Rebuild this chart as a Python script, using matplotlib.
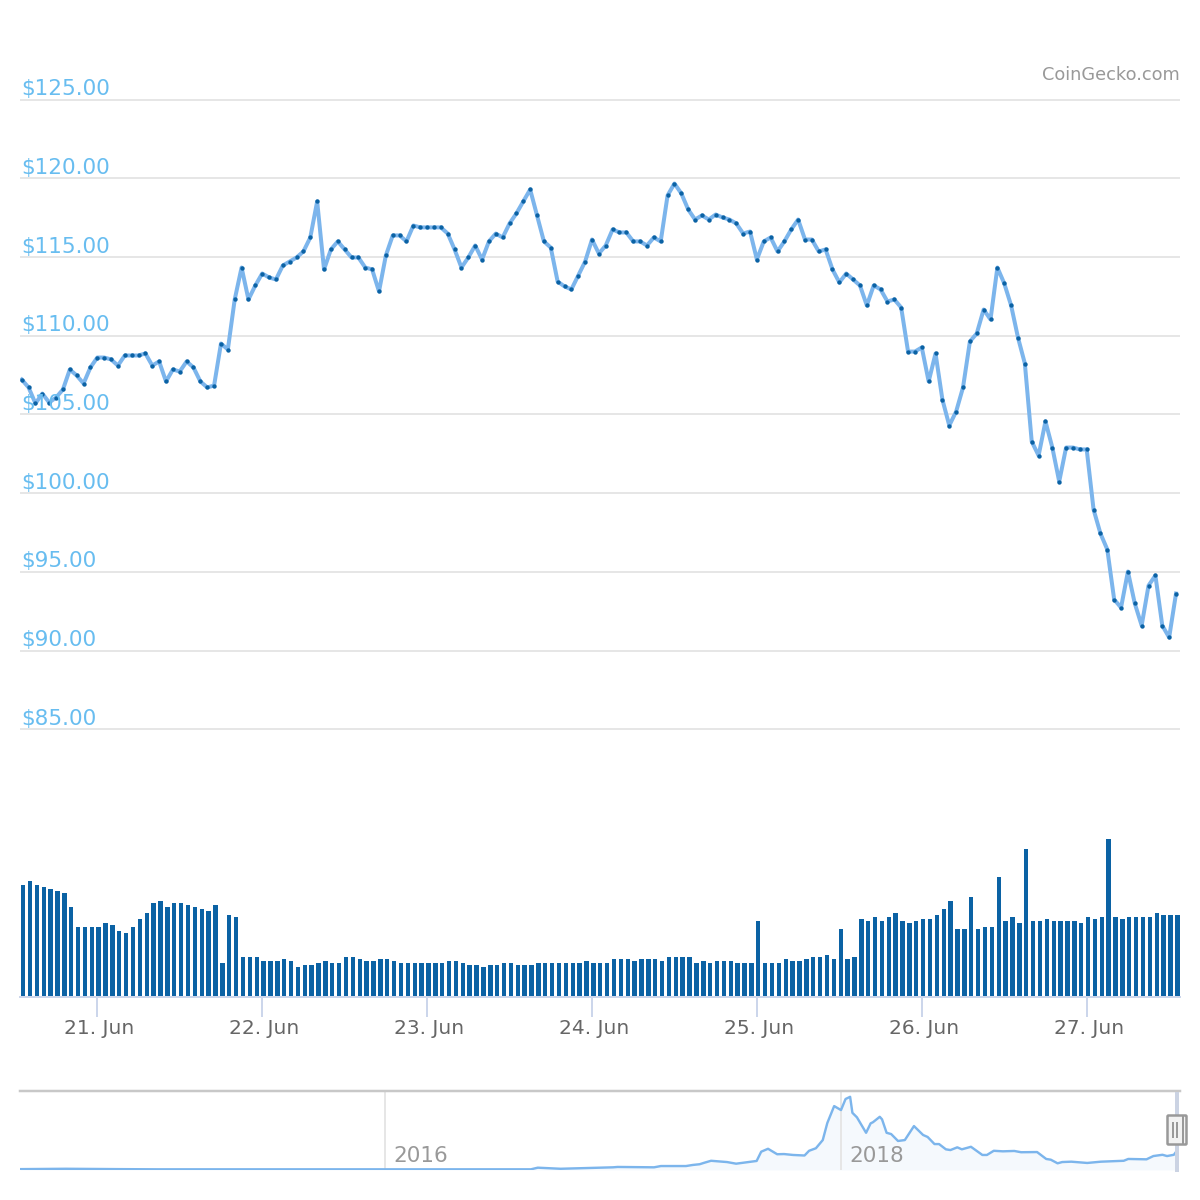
import numpy as np
import matplotlib
matplotlib.use('Agg')
import matplotlib.pyplot as plt
from matplotlib.patches import FancyBboxPatch, Rectangle
from matplotlib.transforms import ScaledTranslation

# hours counted from 21 Jun 00:00, one sample per hour
hours = np.arange(-11, 158)

price = [
    107.22, 106.72, 105.70, 106.33, 105.76, 106.08, 106.59, 107.86, 107.48, 106.97,
    107.99, 108.62, 108.62, 108.50, 108.11, 108.75, 108.75, 108.75, 108.88, 108.11,
    108.37, 107.10, 107.86, 107.73, 108.37, 107.99, 107.10, 106.72, 106.84, 109.51,
    109.13, 112.31, 114.34, 112.31, 113.20, 113.96, 113.71, 113.58, 114.47, 114.72,
    114.98, 115.36, 116.25, 118.54, 114.22, 115.49, 116.00, 115.49, 114.98, 114.98,
    114.34, 114.22, 112.82, 115.11, 116.38, 116.38, 116.00, 117.01, 116.89, 116.89,
    116.89, 116.89, 116.50, 115.49, 114.34, 114.98, 115.74, 114.85, 116.00, 116.50,
    116.25, 117.14, 117.78, 118.54, 119.30, 117.65, 116.00, 115.61, 113.45, 113.14,
    112.95, 113.83, 114.72, 116.12, 115.23, 115.74, 116.76, 116.57, 116.57, 116.00,
    116.00, 115.74, 116.25, 116.00, 118.92, 119.68, 119.05, 118.03, 117.39, 117.65,
    117.39, 117.71, 117.52, 117.39, 117.14, 116.50, 116.63, 114.85, 116.00, 116.25,
    115.36, 116.00, 116.76, 117.39, 116.12, 116.12, 115.36, 115.49, 114.22, 113.39,
    113.96, 113.58, 113.20, 111.93, 113.20, 112.95, 112.18, 112.31, 111.80, 109.00,
    109.00, 109.26, 107.10, 108.88, 105.95, 104.30, 105.19, 106.72, 109.64, 110.15,
    111.67, 111.04, 114.34, 113.33, 111.93, 109.89, 108.24, 103.28, 102.39, 104.56,
    102.90, 100.74, 102.90, 102.90, 102.78, 102.78, 98.96, 97.44, 96.42, 93.24,
    92.73, 95.02, 92.99, 91.59, 94.13, 94.77, 91.59, 90.83, 93.62,
]

volume = [
    112, 116, 112, 110, 108, 106, 104, 90, 70, 70, 70, 70, 74, 72, 66, 64, 70, 78, 84, 94,
    96, 90, 94, 94, 92, 90, 88, 86, 92, 34, 82, 80, 40, 40, 40, 36, 36, 36, 38, 36, 30,
    32, 32, 34, 36, 34, 34, 40, 40, 38, 36, 36, 38, 38, 36, 34, 34, 34, 34, 34, 34, 34,
    36, 36, 34, 32, 32, 30, 32, 32, 34, 34, 32, 32, 32, 34, 34, 34, 34, 34, 34, 34, 36,
    34, 34, 34, 38, 38, 38, 36, 38, 38, 38, 36, 40, 40, 40, 40, 34, 36, 34, 36, 36, 36,
    34, 34,
    34, 76, 34, 34, 34, 38, 36, 36, 38, 40, 40, 42, 38, 68, 38, 40, 78, 76, 80, 76, 80,
    84, 76, 74, 76, 78, 78, 82, 88, 96, 68, 68, 100, 68, 70, 70, 120, 76, 80, 74, 148,
    76, 76, 78, 76, 76, 76, 76, 74, 80, 78, 80, 158, 80, 78, 80, 80, 80, 80, 84, 82, 82, 82,
]

price_ticks = [125, 120, 115, 110, 105, 100, 95, 90, 85]
day_ticks = [0, 24, 48, 72, 96, 120, 144]
day_labels = ['21. Jun', '22. Jun', '23. Jun', '24. Jun', '25. Jun', '26. Jun', '27. Jun']

# overview strip, whole price history
nav_years = [
    2014.40, 2014.60, 2014.84, 2015.00, 2016.64, 2016.67, 2016.77, 2017.00, 2017.02, 2017.18,
    2017.21, 2017.32, 2017.35, 2017.38, 2017.40, 2017.43, 2017.50, 2017.54, 2017.63, 2017.65,
    2017.68, 2017.72, 2017.75, 2017.79, 2017.84, 2017.86, 2017.89, 2017.92, 2017.94, 2017.97,
    2018.00, 2018.02, 2018.04, 2018.05, 2018.07, 2018.11, 2018.13, 2018.14, 2018.17, 2018.18,
    2018.20, 2018.22, 2018.25, 2018.28, 2018.32, 2018.36, 2018.38, 2018.41, 2018.43, 2018.46,
    2018.48, 2018.51, 2018.53, 2018.57, 2018.62, 2018.64, 2018.67, 2018.71, 2018.76, 2018.79,
    2018.86, 2018.90, 2018.92, 2018.95, 2018.97, 2019.01, 2019.08, 2019.14, 2019.24, 2019.26,
    2019.34, 2019.37, 2019.41, 2019.43, 2019.46, 2019.47,
]
nav_price = [
    2, 4, 2, 1, 1, 10, 4, 12, 14, 12,
    19, 19, 25, 29, 37, 48, 41, 32, 47, 98,
    114, 84, 85, 80, 77, 103, 117, 162, 256, 349,
    327, 388, 400, 312, 287, 202, 254, 260, 290, 276,
    202, 195, 157, 162, 239, 190, 179, 140, 140, 111,
    107, 122, 111, 125, 80, 80, 103, 100, 102, 95,
    96, 58, 54, 34, 41, 43, 36, 43, 48, 58,
    56, 74, 81, 74, 81, 98,
]
nav_year_ticks = [2016, 2018]

LINE = '#7cb5ec'
DARK = '#0b62a4'
GRID = '#e6e6e6'
AXIS = '#ccd6eb'
PX = 0.72  # one pixel in points at dpi 100

fig = plt.figure(figsize=(12, 12), dpi=100)


def add_axes(left, top, right, bottom):
    ax = fig.add_axes([left / 1200, 1 - bottom / 1200, (right - left) / 1200, (bottom - top) / 1200])
    ax.patch.set_alpha(0)
    for s in ax.spines.values():
        s.set_visible(False)
    return ax


# price
ax = add_axes(20, 99.8, 1180, 729.2)
ax.set_xlim(-11.25, 157.58)
ax.set_ylim(85, 125)
ax.hlines(price_ticks, -11.25, 157.58, color=GRID, lw=2 * PX, clip_on=False, zorder=1)
ax.plot(hours, price, color=LINE, lw=4 * PX, solid_joinstyle='round', zorder=2)
ax.plot(hours, price, ls='none', marker='o', ms=4.4 * PX, mfc=DARK, mec=DARK, mew=0, zorder=3, clip_on=False)
for v in price_ticks:
    ax.annotate('$%.2f' % v, (0, v), xycoords=('axes fraction', 'data'), xytext=(1 * PX, 4.5 * PX),
                textcoords='offset points', color='#68bdf0', fontsize=15.5, va='baseline', zorder=5,
                annotation_clip=False)
ax.set_xticks([])
ax.set_yticks([])
fig.text(1180 / 1200, 1 - 80 / 1200, 'CoinGecko.com', color='#999999', fontsize=12.8, ha='right', va='baseline')

# volume
vol = add_axes(20, 830, 1180, 996.5)
vol.set_xlim(-11.25, 157.58)
vol.set_ylim(0, 166.5)
vol.bar(hours + 0.2, volume, width=0.64, color=DARK, linewidth=0)
vol.spines['bottom'].set_visible(True)
vol.spines['bottom'].set_color(AXIS)
vol.spines['bottom'].set_linewidth(2 * PX)
vol.set_yticks([])
vol.set_xticks(day_ticks)
vol.set_xticklabels(day_labels, fontsize=14.5, color='#666666')
vol.tick_params(axis='x', length=20 * PX, width=2 * PX, color=AXIS, pad=2)
shift = ScaledTranslation(2 * PX / 72, 0, fig.dpi_scale_trans)
for lbl in vol.get_xticklabels():
    lbl.set_transform(lbl.get_transform() + shift)

# overview
nav = add_axes(20, 1091, 1180, 1170)
nav.set_xlim(2016 + (20 - 385) / 228, 2016 + (1180 - 385) / 228)
nav.set_ylim(-2.75, 432)
nav.fill_between(nav_years, nav_price, -2.75, color=LINE, alpha=0.07, lw=0)
nav.plot(nav_years, nav_price, color=LINE, lw=2.4 * PX, solid_joinstyle='round', zorder=3)
nav.vlines(nav_year_ticks, -2.75, 432, color=GRID, lw=2 * PX, zorder=1)
for y in nav_year_ticks:
    nav.annotate(str(y), (y, 0), xytext=(8 * PX, 8 * PX), textcoords='offset points', color='#999999',
                 fontsize=15.5, va='baseline', zorder=4)
nav.set_xticks([])
nav.set_yticks([])
nav.spines['top'].set_visible(True)
nav.spines['top'].set_color('#c8c8c8')
nav.spines['top'].set_linewidth(2.5 * PX)

# range handle at the right end of the overview
over = fig.add_axes([0, 0, 1, 1])
over.set_xlim(0, 1200)
over.set_ylim(1200, 0)
over.axis('off')
over.patch.set_alpha(0)
over.add_patch(Rectangle((1175, 1092), 4, 80, fc='#cbd3e3', ec='none'))
over.add_patch(FancyBboxPatch((1167.5, 1115.5), 19, 29, boxstyle='round,pad=0,rounding_size=1',
                              fc='#f2f2f2', ec='#999999', lw=2.5 * PX))
over.plot([1173, 1173], [1123, 1137], color='#999999', lw=2 * PX)
over.plot([1177, 1177], [1123, 1137], color='#999999', lw=2 * PX)
over.plot([1183, 1183], [1116, 1144], color='#999999', lw=2 * PX)

fig.savefig('out.png', dpi=100, facecolor='white')
plt.close(fig)
